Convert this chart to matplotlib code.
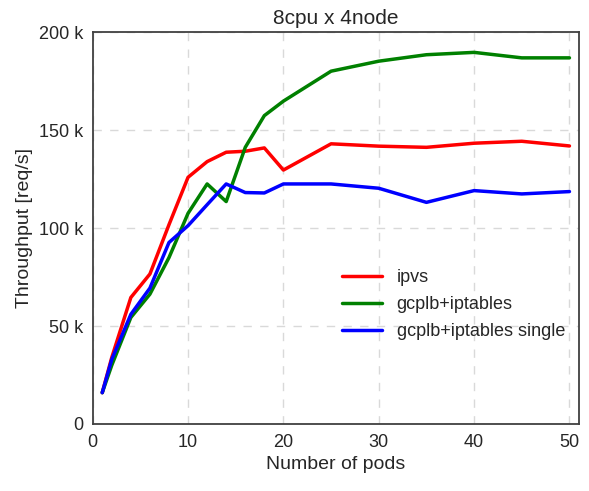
import matplotlib
matplotlib.use("Agg")
import matplotlib.pyplot as plt
import seaborn as sns
from matplotlib.ticker import FuncFormatter

pods = [1, 2, 4, 6, 8, 10, 12, 14, 16, 18, 20, 25, 30, 35, 40, 45, 50]

ipvs = [16, 34, 64.6, 76.6, 101.8, 126, 134, 138.8, 139.3, 141, 129.7,
        143.1, 141.9, 141.3, 143.4, 144.4, 142]
gcplb = [16, 30, 54.4, 66.3, 85, 107.6, 122.6, 113.6, 141.3, 157.5, 164.9,
         180.2, 185.3, 188.6, 189.8, 187, 187]
gcplb_single = [16, 33, 56, 69.4, 92.7, 101.3, 112, 122.6, 118.2, 118, 122.6,
                122.6, 120.4, 113.2, 119.2, 117.5, 118.7]

sns.set_style("white")
plt.rcParams['font.family'] = ['Liberation Sans', 'DejaVu Sans']

fig = plt.figure(figsize=(5.89, 4.91), dpi=100)
ax = fig.add_axes([0.1574, 0.1365, 0.983 - 0.1574, 0.934 - 0.1365])

ax.plot(pods, [v * 1000 for v in ipvs], color='red', lw=2.5, label='ipvs')
ax.plot(pods, [v * 1000 for v in gcplb], color='green', lw=2.5, label='gcplb+iptables')
ax.plot(pods, [v * 1000 for v in gcplb_single], color='blue', lw=2.5,
        label='gcplb+iptables single')

ax.set_xlim(0, 51)
ax.set_ylim(0, 200000)
ax.set_xticks([0, 10, 20, 30, 40, 50])
ax.set_yticks([0, 50000, 100000, 150000, 200000])
ax.yaxis.set_major_formatter(FuncFormatter(lambda v, p: '0' if v == 0 else f'{int(v / 1000)} k'))

ax.grid(True, linestyle=(0, (6, 6)), color='.85', lw=1)
for s in ax.spines.values():
    s.set_color('.25')
    s.set_linewidth(1.3)
ax.tick_params(labelsize=13, colors='.15', length=0, pad=7)

ax.set_xlabel('Number of pods', fontsize=14, color='.15')
ax.set_ylabel('Throughput [req/s]', fontsize=14, color='.15')
ax.set_title('8cpu x 4node', fontsize=15, color='.15')

ax.legend(loc='center left', bbox_to_anchor=(0.48, 0.305), frameon=False, fontsize=13,
          handlelength=2.2, labelspacing=0.55)

fig.savefig('out.png', dpi=100)
